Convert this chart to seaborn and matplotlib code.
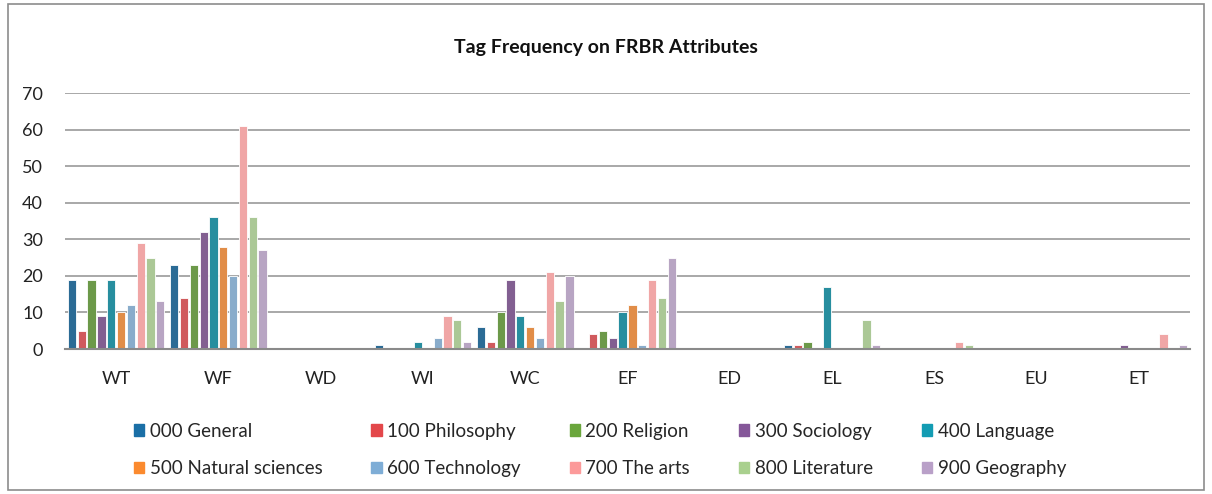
import pandas as pd
import matplotlib.pyplot as plt
import matplotlib.patches as mpatches
import seaborn as sns

# Data
attributes = ["WT", "WF", "WD", "WI", "WC", "EF", "ED", "EL", "ES", "EU", "ET"]
classes = ["000 General", "100 Philosophy", "200 Religion", "300 Sociology", "400 Language",
           "500 Natural sciences", "600 Technology", "700 The arts", "800 Literature", "900 Geography"]

general = [19, 23, 0, 1, 6, 0, 0, 1, 0, 0, 0]
philosophy = [5, 14, 0, 0, 2, 4, 0, 1, 0, 0, 0]
religion = [19, 23, 0, 0, 10, 5, 0, 2, 0, 0, 0]
sociology = [9, 32, 0, 0, 19, 3, 0, 0, 0, 0, 1]
language = [19, 36, 0, 2, 9, 10, 0, 17, 0, 0, 0]
natural_sciences = [10, 28, 0, 0, 6, 12, 0, 0, 0, 0, 0]
technology = [12, 20, 0, 3, 3, 1, 0, 0, 0, 0, 0]
the_arts = [29, 61, 0, 9, 21, 19, 0, 0, 2, 0, 4]
literature = [25, 36, 0, 8, 13, 14, 0, 8, 1, 0, 0]
geography = [13, 27, 0, 2, 20, 25, 0, 1, 0, 0, 1]

series = [general, philosophy, religion, sociology, language,
          natural_sciences, technology, the_arts, literature, geography]

colors = ["#1a6fa6", "#e3474a", "#6aa63c", "#855799", "#139cb3",
          "#fb8a2e", "#7eadd6", "#fc9a9a", "#a9d08e", "#b9a0c8"]

rows = []
for cls, vals in zip(classes, series):
    for attr, v in zip(attributes, vals):
        rows.append({"Attribute": attr, "Class": cls, "Count": v})
df = pd.DataFrame(rows)

sns.set_style("white")
plt.rcParams["font.family"] = ["Lato", "DejaVu Sans"]

fig = plt.figure(figsize=(12.12, 4.94), dpi=100)
ax = fig.add_axes([65 / 1212, 145 / 494, 1125 / 1212, 256 / 494])

sns.barplot(data=df, x="Attribute", y="Count", hue="Class", palette=colors,
            order=attributes, hue_order=classes, width=0.96, gap=0.15,
            edgecolor="white", linewidth=0.6, ax=ax, legend=False)

ax.set_ylim(0, 70)
ax.set_xlim(-0.5, len(attributes) - 0.5)
ax.set_yticks(range(0, 71, 10))
ax.yaxis.grid(True, color="#9a9a9a", linewidth=1.2)
ax.set_axisbelow(True)
for s in ["top", "right", "left"]:
    ax.spines[s].set_visible(False)
ax.spines["bottom"].set_color("#8a8a8a")
ax.spines["bottom"].set_linewidth(1.5)
ax.tick_params(axis="both", length=0, labelsize=13, colors="#222222")
ax.tick_params(axis="y", pad=16)
ax.tick_params(axis="x", pad=16)
ax.set_xlabel("")
ax.set_ylabel("")

fig.text(0.5, 1 - 47 / 494, "Tag Frequency on FRBR Attributes", ha="center", va="center",
         fontsize=14, fontweight="bold", color="#111111")

# legend, row-wise order with 5 columns
handles = [mpatches.Patch(color=c) for c in colors]
order = [0, 5, 1, 6, 2, 7, 3, 8, 4, 9]
fig.legend([handles[i] for i in order], [classes[i] for i in order],
           loc="center", bbox_to_anchor=(0.495, 1 - 450 / 494), ncol=5, frameon=False,
           fontsize=13.5, handlelength=0.55, handleheight=0.55, handletextpad=0.3,
           columnspacing=2.6, labelspacing=1.1)

# outer border
fig.patches.append(mpatches.Rectangle((8 / 1212, 4 / 494), 1196 / 1212, 486 / 494,
                                      transform=fig.transFigure, fill=False,
                                      edgecolor="#8c8c8c", linewidth=1.2))

fig.savefig("out.png", dpi=100)
